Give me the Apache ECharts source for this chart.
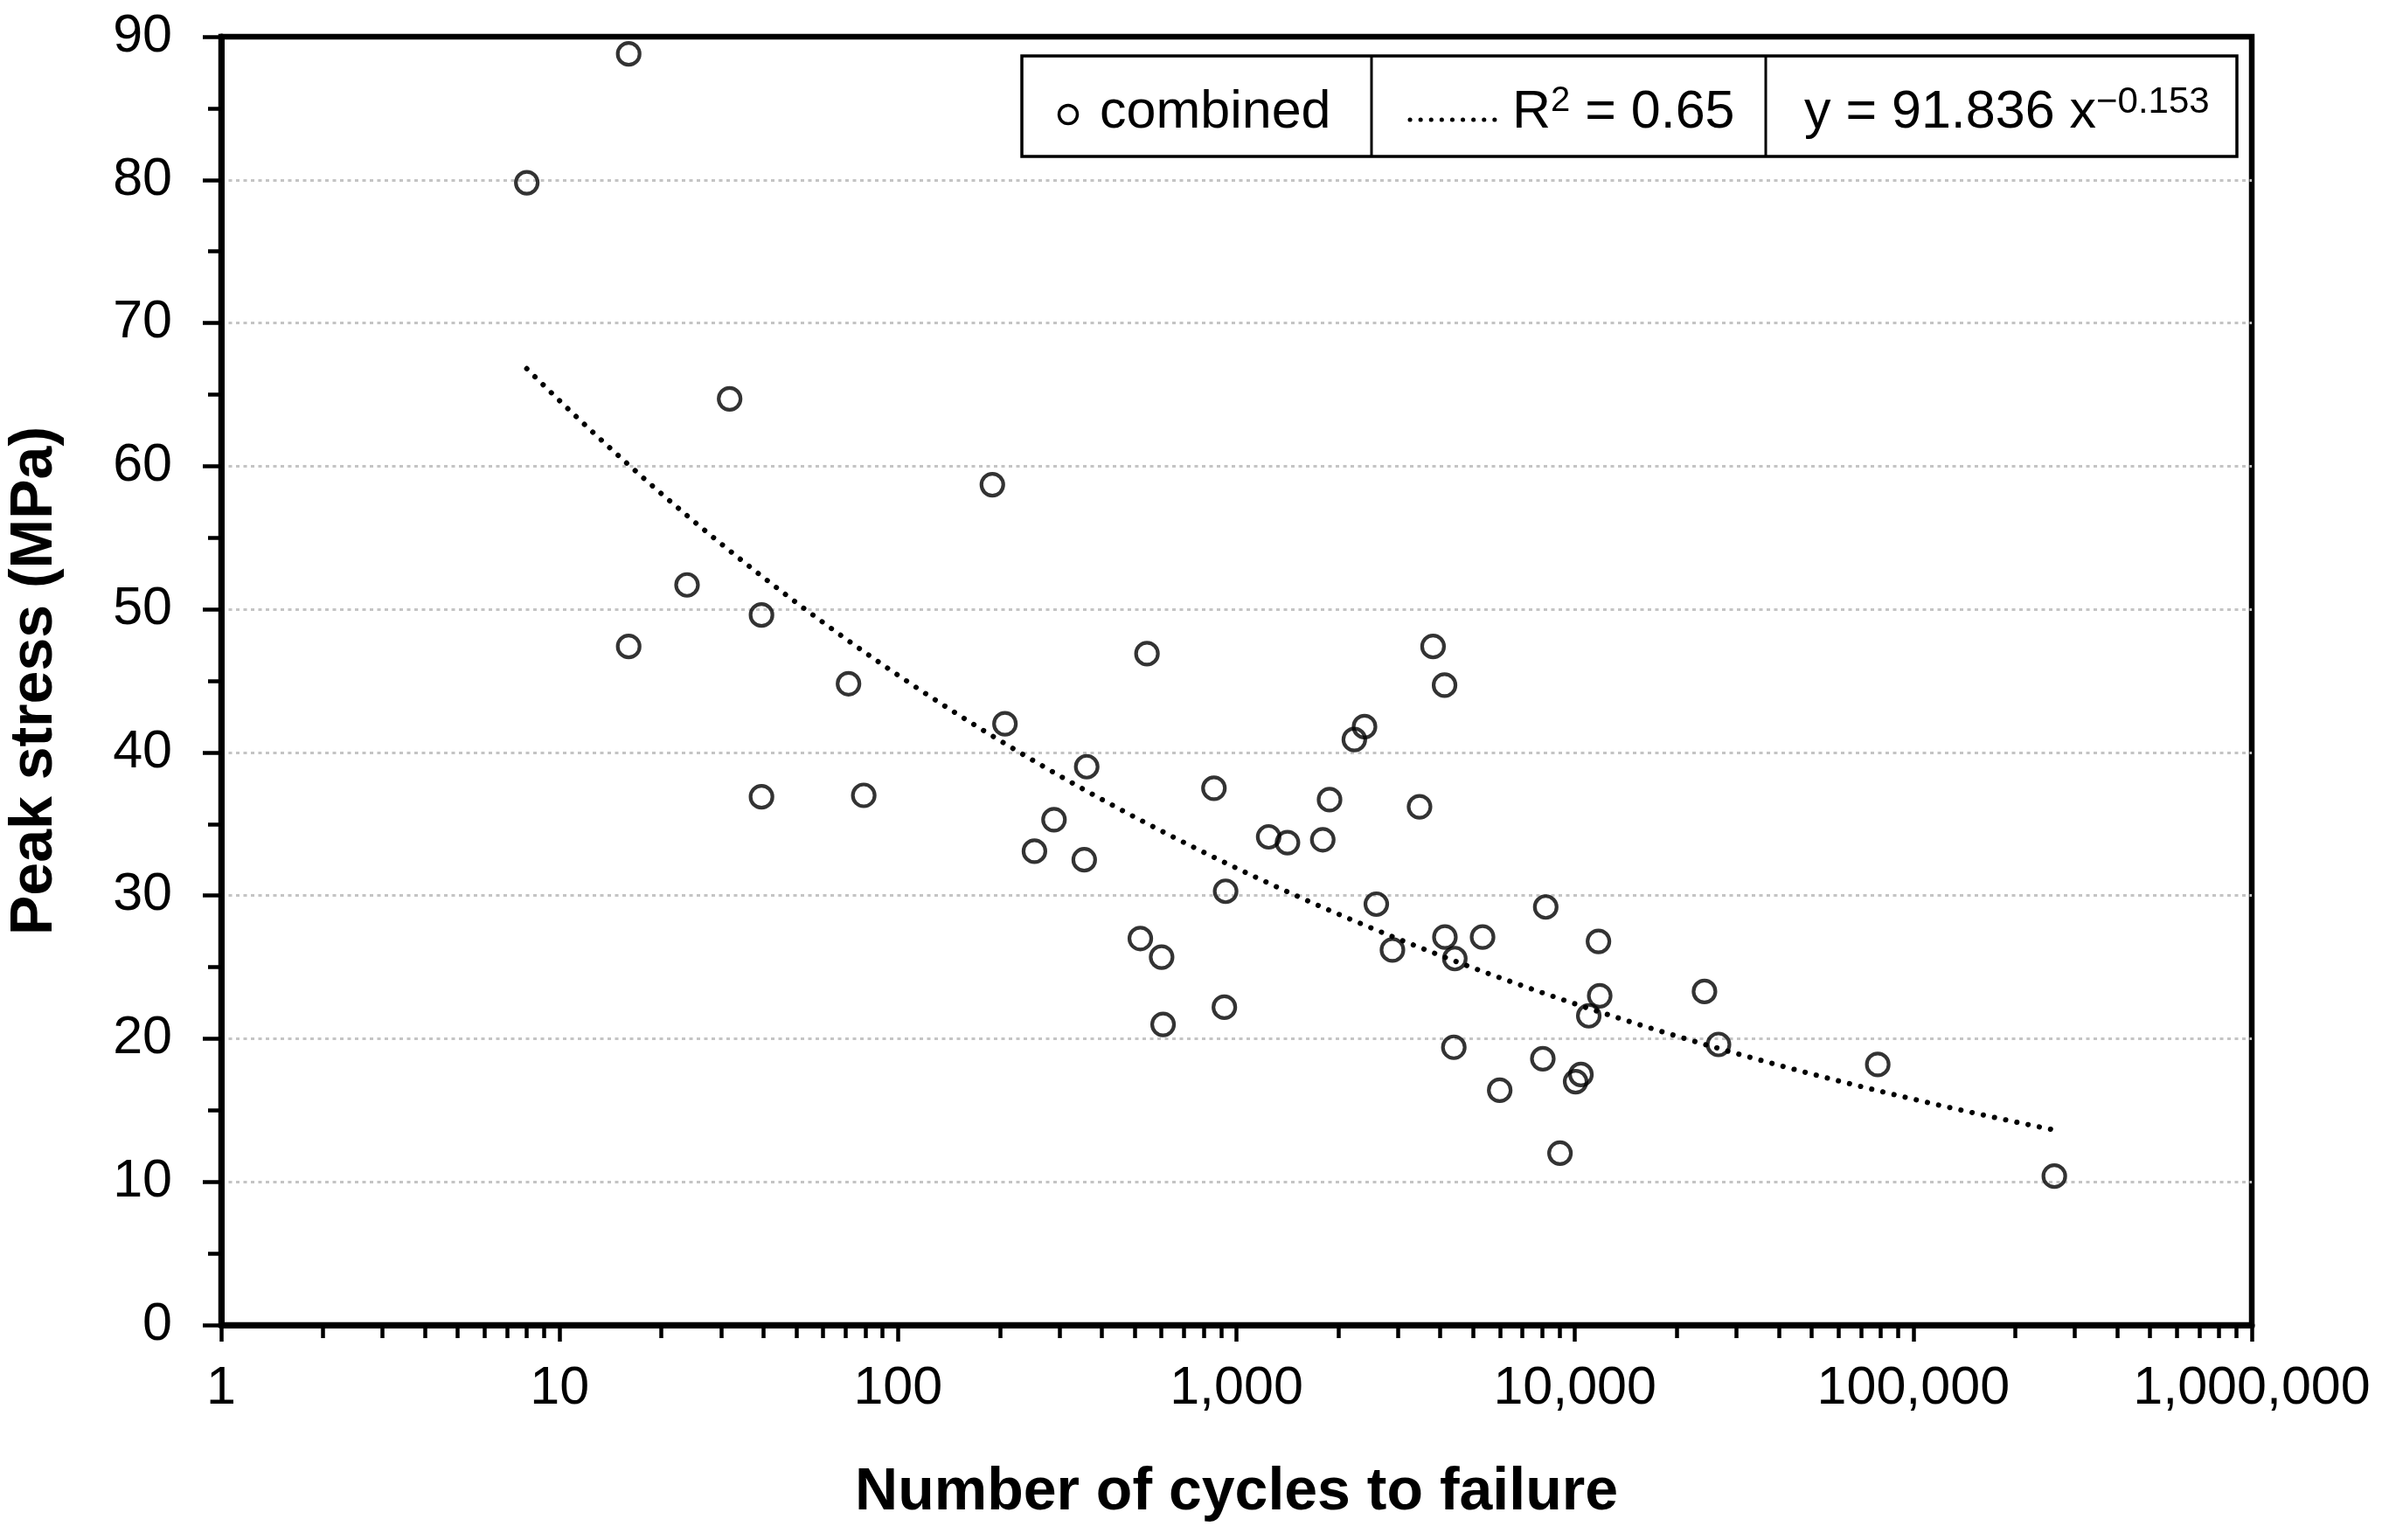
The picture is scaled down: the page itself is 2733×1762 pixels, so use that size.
<!DOCTYPE html>
<html>
<head>
<meta charset="utf-8">
<style>
  html, body { margin: 0; padding: 0; background: #fff; }
  #chart { width: 2733px; height: 1762px; }
</style>
<script src="https://cdn.jsdelivr.net/npm/echarts@6/dist/echarts.min.js"></script>
</head>
<body>
<div id="chart"></div>
<script>
// ---- data ----
const cycles = [8, 16, 31.8, 190, 23.8, 16, 39.5, 71.4, 39.5, 79.2, 207, 544, 361, 289, 253, 355, 858, 520, 601, 607, 929, 921, 1245, 1415, 1799, 1884, 2230, 2390, 2590, 2890, 3475, 3810, 4120, 4130, 4418, 4388, 5336, 5996, 8040, 8200, 9036, 10420, 10050, 10990, 11740, 11840, 24150, 26570, 78500, 261000];
const stress = [79.8, 88.8, 64.7, 58.7, 51.7, 47.4, 49.6, 44.8, 36.9, 37.0, 42.0, 46.9, 39.0, 35.3, 33.1, 32.5, 37.5, 27.0, 25.7, 21.0, 30.3, 22.2, 34.1, 33.7, 33.9, 36.7, 40.9, 41.8, 29.4, 26.2, 36.2, 47.4, 44.7, 27.1, 25.6, 19.4, 27.1, 16.4, 18.6, 29.2, 12.0, 17.5, 17.0, 21.6, 26.8, 23.0, 23.3, 19.6, 18.2, 10.4];
// power-law trend shown in the chart: y = 91.836 x^-0.153, R² = 0.65
const trendCoef = 91.836;
const trendExp = -0.153;
const trendRange = [8, 255000];
const xTickLabels = ['1', '10', '100', '1,000', '10,000', '100,000', '1,000,000'];
const xMinorTickValues = [2,3,4,5,6,7,8,9, 20,30,40,50,60,70,80,90, 200,300,400,500,600,700,800,900,
  2000,3000,4000,5000,6000,7000,8000,9000, 20000,30000,40000,50000,60000,70000,80000,90000,
  200000,300000,400000,500000,600000,700000,800000,900000];
const seriesName = 'combined';
const r2Text = '0.65';

// ---- build ----
const scatterData = cycles.map((c, i) => [c, stress[i]]);
const trendData = [];
const lg0 = Math.log10(trendRange[0]), lg1 = Math.log10(trendRange[1]);
const nSteps = 120;
for (let i = 0; i <= nSteps; i++) {
  const x = Math.pow(10, lg0 + (lg1 - lg0) * i / nSteps);
  trendData.push([x, trendCoef * Math.pow(x, trendExp)]);
}

const FONT = "'Liberation Sans', Arial, sans-serif";
const chart = echarts.init(document.getElementById('chart'));

const legendTop = 64, legendBottom = 179, legendLeft = 1169, legendRight = 2559;
const div1 = 1569, div2 = 2020;
const textY = 129;

chart.setOption({
  backgroundColor: '#fff',
  animation: false,
  grid: {
    left: 253, right: 157, top: 42, bottom: 246,
    containLabel: false,
    outerBoundsMode: 'none',
    show: true, borderColor: '#000', borderWidth: 6.5
  },
  xAxis: [{
    type: 'log', logBase: 10, min: 1, max: 1000000,
    name: 'Number of cycles to failure',
    nameLocation: 'middle', nameGap: 158,
    nameTextStyle: { fontFamily: FONT, fontSize: 68, fontWeight: 'bold', color: '#000' },
    axisLine: { show: true, lineStyle: { color: '#000', width: 7 } },
    axisTick: { show: true, inside: false, length: 19, lineStyle: { color: '#000', width: 4.5 } },
    axisLabel: {
      fontFamily: FONT, fontSize: 61, color: '#000', margin: 43,
      formatter: function (v) {
        const idx = Math.round(Math.log10(v));
        return xTickLabels[idx] !== undefined ? xTickLabels[idx] : '';
      }
    },
    splitLine: { show: false },
    minorTick: { show: false }
  }, {
    type: 'value', min: 0, max: 6, position: 'bottom',
    axisLine: { show: false },
    axisLabel: { show: false },
    splitLine: { show: false },
    axisTick: {
      show: true, length: 15, lineStyle: { color: '#000', width: 4.5 },
      customValues: xMinorTickValues.map(v => Math.log10(v))
    }
  }],
  yAxis: {
    type: 'value', min: 0, max: 90, interval: 10,
    name: 'Peak stress (MPa)',
    nameLocation: 'middle', nameGap: 179,
    nameTextStyle: { fontFamily: FONT, fontSize: 68, fontWeight: 'bold', color: '#000' },
    axisLine: { show: true, lineStyle: { color: '#000', width: 7 } },
    axisTick: { show: true, length: 21, lineStyle: { color: '#000', width: 4.5 } },
    minorTick: { show: true, splitNumber: 2, length: 15, lineStyle: { color: '#000', width: 4.5 } },
    axisLabel: { fontFamily: FONT, fontSize: 61, color: '#000', margin: 56 },
    splitLine: { show: true, showMinLine: false, showMaxLine: false,
      lineStyle: { color: '#c4c4c4', width: 2.8, type: [4, 4.5] } }
  },
  series: [{
    name: 'trend',
    type: 'line',
    data: trendData,
    showSymbol: false,
    symbol: 'none',
    smooth: false,
    lineStyle: { color: '#000', width: 6, type: [0.1, 13], cap: 'round' },
    z: 2
  }, {
    name: seriesName,
    type: 'scatter',
    data: scatterData,
    symbol: 'circle',
    symbolSize: 25,
    itemStyle: { color: 'rgba(255,255,255,0)', borderColor: '#000', borderWidth: 4.2 },
    z: 3
  }],
  graphic: [
    { type: 'rect', shape: { x: legendLeft, y: legendTop, width: legendRight - legendLeft, height: legendBottom - legendTop },
      style: { fill: '#fff', stroke: '#000', lineWidth: 3.5 }, z: 10 },
    { type: 'line', shape: { x1: div1, y1: legendTop, x2: div1, y2: legendBottom }, style: { stroke: '#000', lineWidth: 3 }, z: 11 },
    { type: 'line', shape: { x1: div2, y1: legendTop, x2: div2, y2: legendBottom }, style: { stroke: '#000', lineWidth: 3 }, z: 11 },
    { type: 'circle', shape: { cx: 1222, cy: 131, r: 10.5 }, style: { fill: 'none', stroke: '#000', lineWidth: 3.5 }, z: 11 },
    { type: 'text', x: 1258, y: textY, style: { text: seriesName, font: "61px 'Liberation Sans', Arial, sans-serif", fill: '#000', align: 'left', verticalAlign: 'middle' }, z: 11 },
    { type: 'line', shape: { x1: 1613, y1: 137, x2: 1710, y2: 137 }, style: { stroke: '#000', lineWidth: 5, lineDash: [0.1, 12], lineCap: 'round' }, z: 11 },
    { type: 'text', x: 1730, y: textY, style: {
        text: '{n|R}{s|2}{n| = ' + r2Text + '}',
        align: 'left', verticalAlign: 'middle',
        rich: {
          n: { fontFamily: FONT, fontSize: 61, color: '#000', lineHeight: 66 },
          s: { fontFamily: FONT, fontSize: 40, color: '#000', verticalAlign: 'top', lineHeight: 40 }
        }
      }, z: 11 },
    { type: 'text', x: 2064, y: textY, style: {
        text: '{n|y = ' + trendCoef.toFixed(3) + ' x}{s|\u2212' + Math.abs(trendExp).toFixed(3) + '}',
        align: 'left', verticalAlign: 'middle',
        rich: {
          n: { fontFamily: FONT, fontSize: 61, color: '#000', lineHeight: 66 },
          s: { fontFamily: FONT, fontSize: 42, color: '#000', verticalAlign: 'top', lineHeight: 42 }
        }
      }, z: 11 }
  ]
});
</script>
</body>
</html>
